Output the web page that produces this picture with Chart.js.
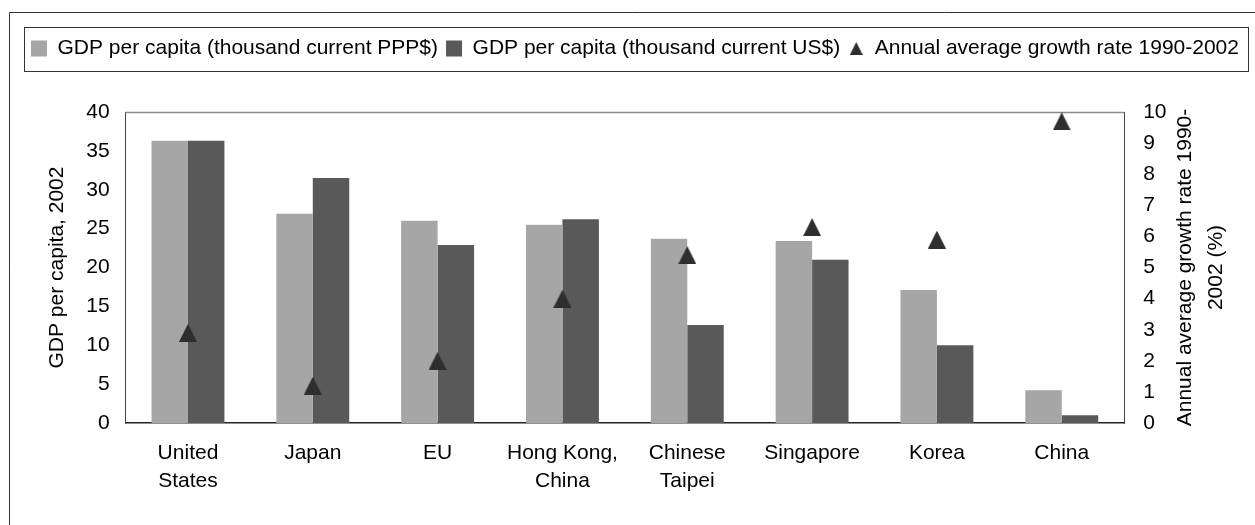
<!DOCTYPE html>
<html>
<head>
<meta charset="utf-8">
<script src="https://cdn.jsdelivr.net/npm/chart.js@4/dist/chart.umd.min.js"></script>
<style>
  html, body { margin: 0; padding: 0; background: #fff; }
  #wrap { width: 1255px; height: 525px; }
</style>
</head>
<body>
<div id="wrap"><canvas id="gdpChart" width="1255" height="525"></canvas></div>
<script>
// values
var countries = [['United', 'States'], 'Japan', 'EU', ['Hong Kong,', 'China'], ['Chinese', 'Taipei'], 'Singapore', 'Korea', 'China'];
var gdpPPP = [36.3, 26.9, 26.0, 25.5, 23.7, 23.4, 17.1, 4.2];
var gdpUSD = [36.3, 31.5, 22.9, 26.2, 12.6, 21.0, 10.0, 1.0];
var growthRate = [2.9, 1.2, 2.0, 4.0, 5.4, 6.3, 5.9, 9.7];

var seriesNames = [
  'GDP per capita (thousand current PPP$)',
  'GDP per capita (thousand current US$)',
  'Annual average growth rate 1990-2002'
];
var leftTitle = 'GDP per capita, 2002';
var rightTitle = ['Annual average growth rate 1990-', '2002 (%)'];

Chart.defaults.font.family = '"Liberation Sans", Arial, sans-serif';
Chart.defaults.font.size = 21;
Chart.defaults.color = '#000';

// excel style triangle, as wide as it is tall
function makeTriangle(size, color) {
  var c = document.createElement('canvas');
  c.width = size;
  c.height = size;
  var g = c.getContext('2d');
  g.fillStyle = color;
  g.beginPath();
  g.moveTo(size / 2, 0);
  g.lineTo(size, size);
  g.lineTo(0, size);
  g.closePath();
  g.fill();
  return c;
}
var triMarker = makeTriangle(18, '#2e2e2e');
var triLegend = makeTriangle(13, '#2e2e2e');

// leave room between legend and plot
var legendGap = {
  id: 'legendGap',
  beforeInit: function (chart) {
    var fit = chart.legend.fit;
    chart.legend.fit = function () {
      fit.bind(chart.legend)();
      this.boxH = this.height;
      this.height = Math.max(this.height, 82);
    };
  }
};

var frames = {
  id: 'frames',
  beforeDraw: function (chart) {
    var ctx = chart.ctx;
    var lg = chart.legend;
    ctx.save();
    ctx.strokeStyle = '#333';
    ctx.lineWidth = 1;
    // outer chart frame (only left/top edges visible)
    ctx.beginPath();
    ctx.moveTo(9.5, chart.height + 2);
    ctx.lineTo(9.5, 12.5);
    ctx.lineTo(chart.width + 2, 12.5);
    ctx.stroke();
    // legend box
    ctx.strokeRect(24.5, Math.round(lg.top) - 2.5, chart.width - 31, lg.boxH + 5);
    ctx.restore();
  },
  beforeDatasetsDraw: function (chart) {
    var a = chart.chartArea;
    var ctx = chart.ctx;
    ctx.save();
    ctx.strokeStyle = '#8c8c8c';
    ctx.lineWidth = 1.5;
    ctx.beginPath();
    ctx.moveTo(a.left, a.top + 0.5);
    ctx.lineTo(a.right, a.top + 0.5);
    ctx.stroke();
    ctx.restore();
  },
  afterDraw: function (chart) {
    // right axis title reads bottom-to-top like the left one
    var s = chart.scales.y1;
    var a = chart.chartArea;
    var ctx = chart.ctx;
    var lh = 31;
    var x2 = s.right - 18.5 - lh / 2;
    var xs = [x2 - lh, x2];
    ctx.save();
    ctx.fillStyle = '#000';
    ctx.font = '21px "Liberation Sans", Arial, sans-serif';
    ctx.textAlign = 'center';
    ctx.textBaseline = 'middle';
    rightTitle.forEach(function (line, i) {
      ctx.save();
      ctx.translate(xs[i], (a.top + a.bottom) / 2);
      ctx.rotate(-Math.PI / 2);
      ctx.fillText(line, 0, 0);
      ctx.restore();
    });
    ctx.restore();
  }
};

var ctx1 = document.getElementById('gdpChart').getContext('2d');
var gdpChart = new Chart(ctx1, {
  type: 'bar',
  data: {
    labels: countries,
    datasets: [{
      label: seriesNames[0],
      data: gdpPPP,
      backgroundColor: '#a6a6a6',
      yAxisID: 'y',
      categoryPercentage: 0.584,
      barPercentage: 1.0
    }, {
      label: seriesNames[1],
      data: gdpUSD,
      backgroundColor: '#595959',
      yAxisID: 'y',
      categoryPercentage: 0.584,
      barPercentage: 1.0
    }, {
      type: 'line',
      label: seriesNames[2],
      data: growthRate,
      yAxisID: 'y1',
      showLine: false,
      pointStyle: triMarker,
      pointRadius: 9,
      backgroundColor: '#2e2e2e',
      borderColor: '#2e2e2e',
      order: -1
    }]
  },
  options: {
    responsive: false,
    animation: false,
    layout: { padding: { left: 20, right: 5, top: 30, bottom: 14 } },
    plugins: {
      tooltip: { enabled: false },
      legend: {
        position: 'top',
        labels: {
          usePointStyle: true,
          boxWidth: 16,
          boxHeight: 16,
          padding: 8,
          color: '#000',
          font: { size: 21 },
          sort: function (a, b) { return a.datasetIndex - b.datasetIndex; },
          generateLabels: function (chart) {
            var items = Chart.defaults.plugins.legend.labels.generateLabels(chart);
            items.forEach(function (it) {
              it.pointStyle = it.datasetIndex === 2 ? triLegend : 'rect';
              it.lineWidth = 0;
              it.strokeStyle = 'rgba(0,0,0,0)';
            });
            return items;
          }
        }
      }
    },
    scales: {
      x: {
        grid: { display: false, drawTicks: false },
        border: { color: '#222', width: 1.5 },
        ticks: {
          autoSkip: false,
          maxRotation: 0,
          padding: 16,
          font: { size: 21, lineHeight: 1.333 }
        }
      },
      y: {
        position: 'left',
        min: 0,
        max: 40,
        grid: { display: false, drawTicks: false },
        border: { color: '#444', width: 1 },
        ticks: { stepSize: 5, padding: 16, autoSkip: false },
        title: {
          display: true,
          text: leftTitle,
          font: { size: 21 },
          padding: { top: 25, bottom: 0 }
        }
      },
      y1: {
        position: 'right',
        min: 0,
        max: 10,
        grid: { display: false, drawTicks: false },
        border: { color: '#444', width: 1 },
        ticks: { stepSize: 1, padding: 19, autoSkip: false },
        title: {
          display: true,
          text: rightTitle,
          color: 'rgba(0,0,0,0)',
          font: { size: 21, lineHeight: 1.19 },
          padding: { top: 14.5, bottom: 0 }
        }
      }
    }
  },
  plugins: [legendGap, frames]
});
</script>
</body>
</html>
